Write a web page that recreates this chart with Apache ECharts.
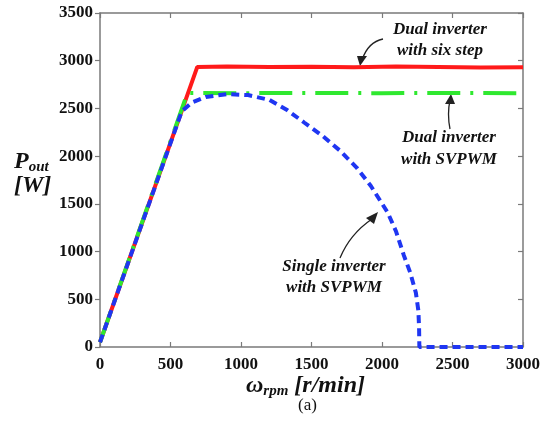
<!DOCTYPE html>
<html>
<head>
<meta charset="utf-8">
<script src="https://cdn.jsdelivr.net/npm/echarts@6/dist/echarts.min.js"></script>
<style>
  html, body { margin: 0; padding: 0; background: #fff; }
  #chart { width: 556px; height: 430px; }
</style>
</head>
<body>
<div id="chart"></div>
<script>
// Speed (r/min) vs output power (W) for three drive configurations
const xTicks = [0, 500, 1000, 1500, 2000, 2500, 3000];
const yTicks = [0, 500, 1000, 1500, 2000, 2500, 3000, 3500];

const dualSixStepSpeed = [0, 690, 900, 1200, 1500, 1800, 2100, 2400, 2700, 3000];
const dualSixStepPower = [50, 2935, 2940, 2935, 2938, 2932, 2940, 2935, 2930, 2932];

const dualSvpwmSpeed = [0, 620, 1000, 1500, 2000, 2500, 3000];
const dualSvpwmPower = [50, 2662, 2660, 2662, 2660, 2662, 2660];

const singleSvpwmSpeed = [0, 580, 650, 750, 900, 1050, 1200, 1330, 1450, 1580, 1700, 1820, 1920, 2040, 2100, 2155, 2200, 2240, 2258, 2263, 2265, 3000];
const singleSvpwmPower = [50, 2470, 2560, 2620, 2650, 2640, 2590, 2480, 2350, 2210, 2060, 1880, 1690, 1410, 1210, 960, 780, 570, 380, 200, 0, 0];

const pairs = (xs, ys) => xs.map((x, i) => [x, ys[i]]);

const chart = echarts.init(document.getElementById('chart'));

const serif = '"Liberation Serif", "DejaVu Serif", serif';
const axisGray = '#7a7a7a';

const baseAxis = (tickInside) => ({
  type: 'value',
  axisLine: { show: true, onZero: false, lineStyle: { color: axisGray, width: 1.5 } },
  axisTick: { show: true, inside: tickInside, length: 5, lineStyle: { color: axisGray, width: 1.2 } },
  splitLine: { show: false }
});

chart.setOption({
  animation: false,
  backgroundColor: '#fff',
  grid: { left: 100, right: 33, top: 13, bottom: 83 },
  xAxis: [
    Object.assign(baseAxis(true), {
      min: 0, max: 3000, interval: 500, position: 'bottom',
      axisLabel: { color: '#111', fontFamily: serif, fontWeight: 'bold', fontSize: 17, margin: 9,
        formatter: v => xTicks.includes(v) ? String(v) : '' }
    }),
    Object.assign(baseAxis(true), {
      min: 0, max: 3000, interval: 500, position: 'top', axisLabel: { show: false }
    })
  ],
  yAxis: [
    Object.assign(baseAxis(false), {
      min: 0, max: 3500, interval: 500, position: 'left',
      axisLabel: { color: '#111', fontFamily: serif, fontWeight: 'bold', fontSize: 17, margin: 7,
        formatter: v => yTicks.includes(v) ? String(v) : '' }
    }),
    Object.assign(baseAxis(true), {
      min: 0, max: 3500, interval: 500, position: 'right', axisLabel: { show: false }
    })
  ],
  series: [
    {
      name: 'Dual inverter with six step', type: 'line', symbol: 'none',
      data: pairs(dualSixStepSpeed, dualSixStepPower),
      lineStyle: { color: '#ff1a1a', width: 4 }, z: 2
    },
    {
      name: 'Dual inverter with SVPWM', type: 'line', symbol: 'none',
      data: pairs(dualSvpwmSpeed, dualSvpwmPower),
      lineStyle: { color: '#2fe82f', width: 4, type: [33, 10, 3, 10] }, z: 3
    },
    {
      name: 'Single inverter with SVPWM', type: 'line', symbol: 'none',
      data: pairs(singleSvpwmSpeed, singleSvpwmPower),
      lineStyle: { color: '#1f36f2', width: 4, type: [8, 5] }, z: 4
    }
  ],
  graphic: [
    // y-axis title
    { type: 'text', left: 14, top: 150, style: {
        text: '{p|P}{s|out}', rich: {
          p: { fontFamily: serif, fontWeight: 'bold', fontStyle: 'italic', fontSize: 24, fill: '#111' },
          s: { fontFamily: serif, fontWeight: 'bold', fontStyle: 'italic', fontSize: 15, fill: '#111', padding: [10, 0, 0, 0] }
        } } },
    { type: 'text', left: 14, top: 174, style: {
        text: '[W]', font: 'italic bold 24px ' + serif, fill: '#111' } },
    // x-axis title
    { type: 'text', left: 246, top: 374, style: {
        text: '{w|ω}{s|rpm}{w| [r/min]}', rich: {
          w: { fontFamily: serif, fontWeight: 'bold', fontStyle: 'italic', fontSize: 24, fill: '#111' },
          s: { fontFamily: serif, fontWeight: 'bold', fontStyle: 'italic', fontSize: 15, fill: '#111', padding: [10, 0, 0, 0] }
        } } },
    { type: 'text', left: 298, top: 397, style: { text: '(a)', font: '17px ' + serif, fill: '#111' } },

    // annotations
    { type: 'text', x: 440, y: 40, style: { text: 'Dual inverter\nwith six step', align: 'center', verticalAlign: 'middle',
        font: 'italic bold 17px ' + serif, fill: '#111', lineHeight: 21 } },
    { type: 'text', x: 449, y: 149, style: { text: 'Dual inverter\nwith SVPWM', align: 'center', verticalAlign: 'middle',
        font: 'italic bold 17px ' + serif, fill: '#111', lineHeight: 22 } },
    { type: 'text', x: 334, y: 277, style: { text: 'Single inverter\nwith SVPWM', align: 'center', verticalAlign: 'middle',
        font: 'italic bold 17px ' + serif, fill: '#111', lineHeight: 21 } },

    // arrows
    { type: 'bezierCurve', shape: { x1: 383, y1: 39, x2: 362, y2: 60, cpx1: 368, cpy1: 42 },
      style: { stroke: '#222', lineWidth: 1.3, fill: null } },
    { type: 'polygon', shape: { points: [[357, 56], [367, 56], [360, 66]] }, style: { fill: '#222' } },

    { type: 'bezierCurve', shape: { x1: 450, y1: 129, x2: 450, y2: 100, cpx1: 447, cpy1: 114 },
      style: { stroke: '#222', lineWidth: 1.3, fill: null } },
    { type: 'polygon', shape: { points: [[445, 104], [455, 104], [451, 94]] }, style: { fill: '#222' } },

    { type: 'bezierCurve', shape: { x1: 340, y1: 258, x2: 372, y2: 219, cpx1: 350, cpy1: 234 },
      style: { stroke: '#222', lineWidth: 1.3, fill: null } },
    { type: 'polygon', shape: { points: [[366, 218], [374, 224], [378, 212]] }, style: { fill: '#222' } }
  ]
});
</script>
</body>
</html>
